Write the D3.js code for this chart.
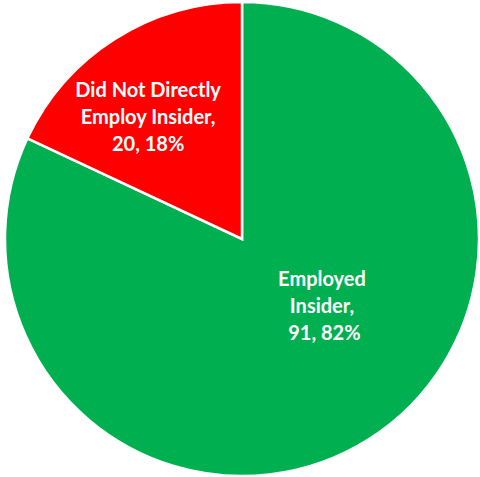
<!DOCTYPE html>
<html><head><meta charset="utf-8">
<script src="https://cdn.jsdelivr.net/npm/d3@7"></script>
<style>html,body{margin:0;padding:0;background:#fff;}svg{display:block;}</style>
</head><body>
<svg id="chart" width="480" height="477"></svg>
<script>
const categories = ["Employed Insider", "Did Not Directly Employ Insider"];
const values = [91, 20];
const colors = ["#00B050", "#FF0000"];
const labelLines = [
  ["Employed", "Insider,", " 91, 82%"],
  ["Did Not Directly", "Employ Insider,", "20, 18%"]
];

const svg = d3.select("#chart");
const cx = 242, cy = 239, r = 237;
const g = svg.append("g").attr("transform", `translate(${cx},${cy})`);

const pie = d3.pie().sort(null).value(d => d)(values);
const arc = d3.arc().innerRadius(0).outerRadius(r);

g.selectAll("path").data(pie).join("path")
  .attr("d", arc)
  .attr("fill", (d, i) => colors[i])
  .attr("stroke", "#fff")
  .attr("stroke-width", 2.5)
  .attr("stroke-linejoin", "miter");

// label placement relative to each slice: radius fraction and angle shift (deg)
const labelRadius = [0.443, 0.646];
const labelShift = [-17.2, -5.4];
pie.forEach((d, i) => {
  const a = (d.startAngle + d.endAngle) / 2 + labelShift[i] * Math.PI / 180;
  const lr = r * labelRadius[i];
  const x = Math.sin(a) * lr, y = -Math.cos(a) * lr;
  const t = g.append("text")
    .attr("text-anchor", "middle")
    .attr("fill", "#fff")
    .attr("font-family", "Lato, 'Open Sans', sans-serif")
    .attr("font-weight", "bold")
    .attr("font-size", 20)
    .style("white-space", "pre");
  const lines = labelLines[i];
  lines.forEach((s, k) => {
    t.append("tspan").attr("x", x).attr("y", y + (k - (lines.length - 1) / 2) * 27 + 6).text(s);
  });
});
</script>
</body></html>
